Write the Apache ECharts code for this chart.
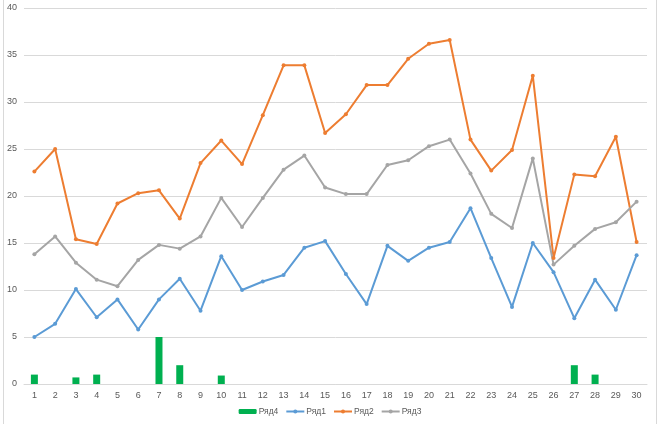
<!DOCTYPE html>
<html><head><meta charset="utf-8">
<script src="https://cdn.jsdelivr.net/npm/echarts@6/dist/echarts.min.js"></script>
<style>html,body{margin:0;padding:0;background:#fff}#c{width:660px;height:430px}</style>
</head><body><div id="c"></div>
<script>
const categories = ['1','2','3','4','5','6','7','8','9','10','11','12','13','14','15','16','17','18','19','20','21','22','23','24','25','26','27','28','29','30'];
const ryad1 = [5.0,6.4,10.1,7.1,9.0,5.8,9.0,11.2,7.8,13.6,10.0,10.9,11.6,14.5,15.2,11.7,8.5,14.7,13.1,14.5,15.1,18.7,13.4,8.2,15.0,11.9,7.0,11.1,7.9,13.7];
const ryad2 = [22.6,25.0,15.4,14.9,19.2,20.3,20.6,17.6,23.5,25.9,23.4,28.6,33.9,33.9,26.7,28.7,31.8,31.8,34.6,36.2,36.6,26.0,22.7,24.9,32.8,13.4,22.3,22.1,26.3,15.1];
const ryad3 = [13.8,15.7,12.9,11.1,10.4,13.2,14.8,14.4,15.7,19.8,16.7,19.8,22.8,24.3,20.9,20.2,20.2,23.3,23.8,25.3,26.0,22.4,18.1,16.6,24.0,12.7,14.7,16.5,17.2,19.4];
const ryad4 = [1,null,0.7,1,null,null,5,2,null,0.9,null,null,null,null,null,null,null,null,null,null,null,null,null,null,null,null,2,1,null,null];
const yTicks = [0,5,10,15,20,25,30,35,40];

const chart = echarts.init(document.getElementById('c'), null, {renderer:'canvas'});
const lineSeries = (name, data, color) => ({
  name, type:'line', data, symbol:'circle', symbolSize:4,
  lineStyle:{color, width:2}, itemStyle:{color}, z:3
});
chart.setOption({
  animation:false,
  textStyle:{fontFamily:'Liberation Sans, Arial, sans-serif'},
  grid:{left:24, right:13, top:8, bottom:46, containLabel:false},
  xAxis:{
    type:'category', data:categories, boundaryGap:true,
    axisLine:{lineStyle:{color:'#D9D9D9'}}, axisTick:{show:false},
    axisLabel:{color:'#595959', fontSize:9, margin:7, interval:0}
  },
  yAxis:{
    type:'value', min:yTicks[0], max:yTicks[yTicks.length-1], interval:5,
    axisLine:{show:false}, axisTick:{show:false},
    axisLabel:{color:'#595959', fontSize:9, margin:7},
    splitLine:{lineStyle:{color:'#D9D9D9', width:1}}
  },
  legend:{
    bottom:9, left:'center', itemGap:7, itemWidth:18, itemHeight:5,
    textStyle:{color:'#595959', fontSize:8.5, padding:[0,0,0,-3]},
    data:['Ряд4','Ряд1','Ряд2','Ряд3']
  },
  graphic:[
    {type:'line', shape:{x1:3.5,y1:0,x2:3.5,y2:424}, style:{stroke:'#D9D9D9', lineWidth:1}},
    {type:'line', shape:{x1:656.5,y1:0,x2:656.5,y2:424}, style:{stroke:'#D9D9D9', lineWidth:1}}
  ],
  series:[
    {name:'Ряд4', type:'bar', data:ryad4, barWidth:7, itemStyle:{color:'#00B050'}, z:2},
    lineSeries('Ряд1', ryad1, '#5B9BD5'),
    lineSeries('Ряд2', ryad2, '#ED7D31'),
    lineSeries('Ряд3', ryad3, '#A5A5A5')
  ]
});
</script></body></html>
